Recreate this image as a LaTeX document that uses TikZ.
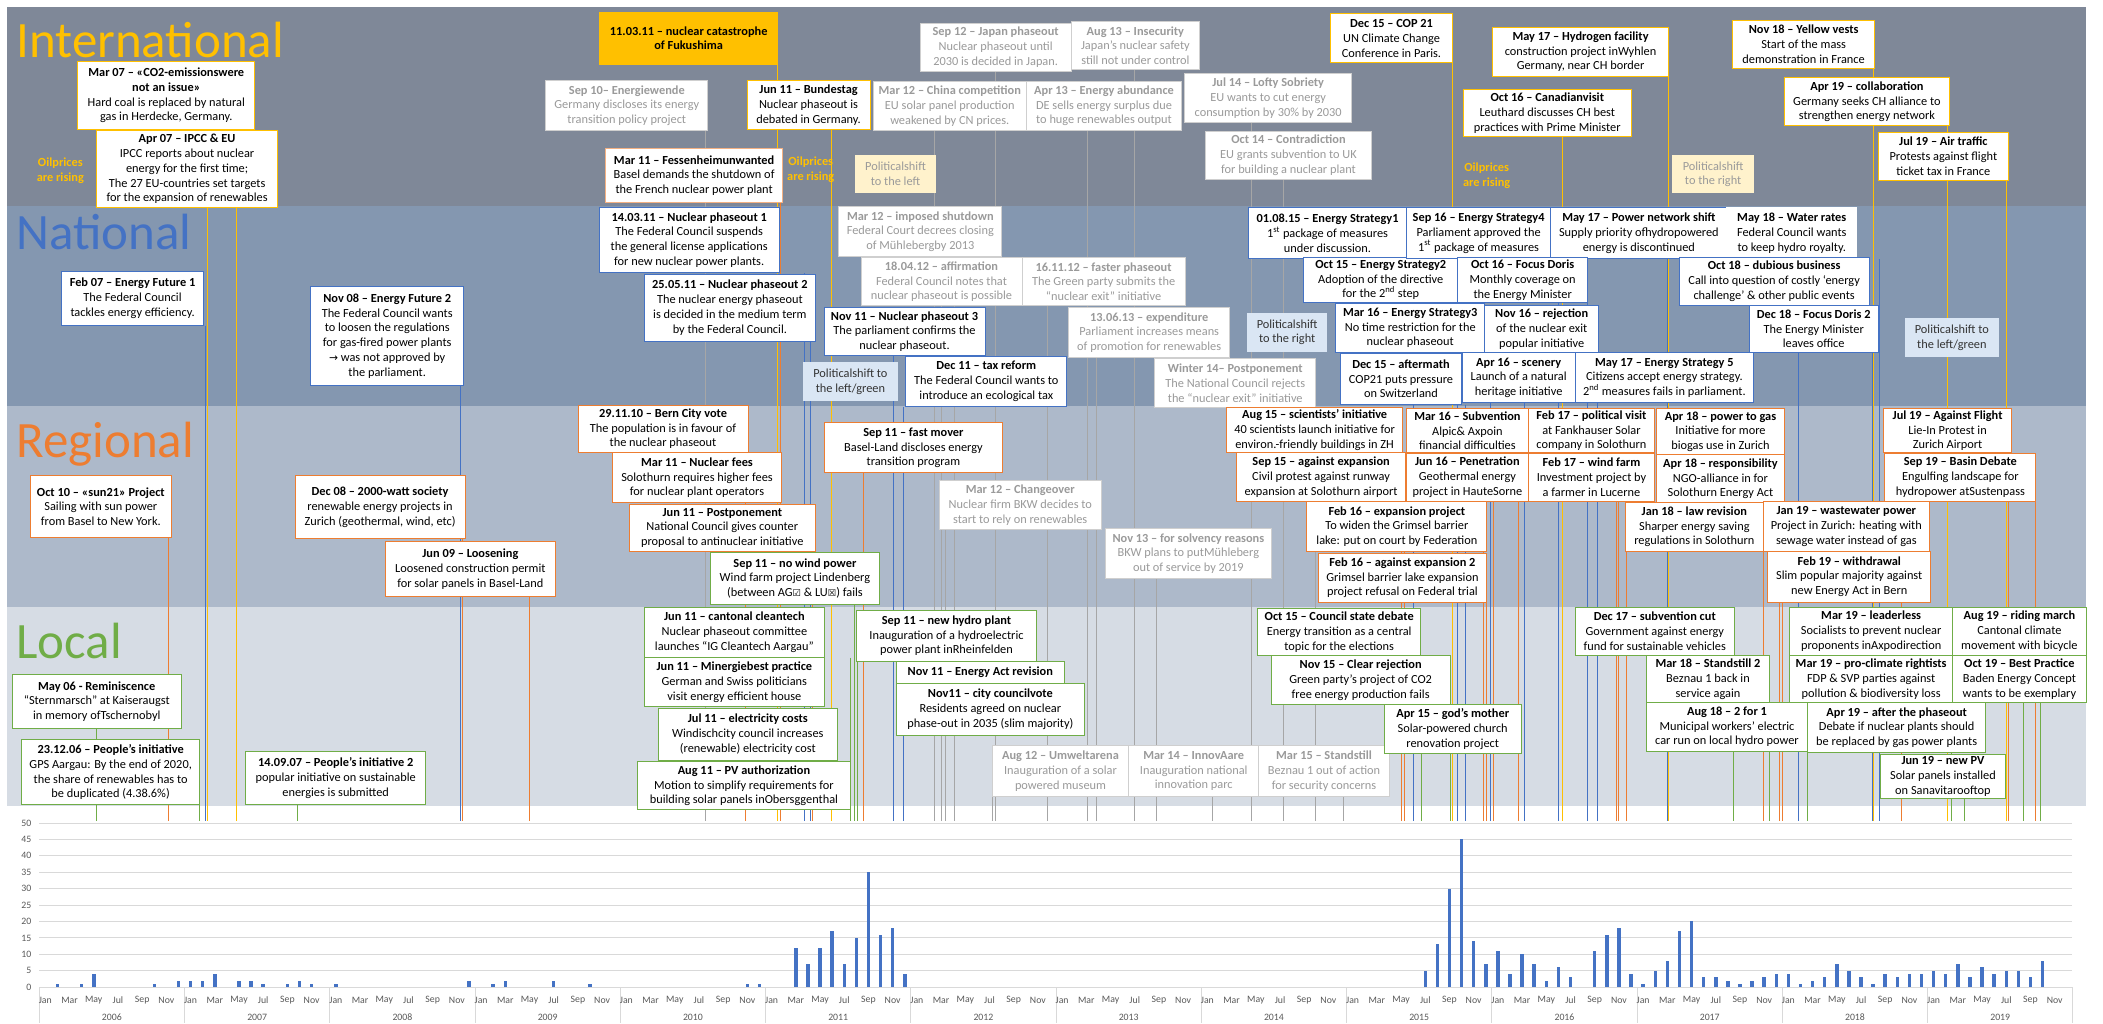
\documentclass[tikz,border=0pt]{standalone}
\usepackage{fontspec}
\setmainfont{Carlito}
\newfontfamily\symfont{DejaVu Sans}
\definecolor{cGold}{HTML}{FFC000}
\definecolor{cBlue}{HTML}{4472C4}
\definecolor{cOrange}{HTML}{ED7D31}
\definecolor{cGreen}{HTML}{70AD47}
\definecolor{cFadeLine}{HTML}{CFCFCF}
\definecolor{cFadeText}{HTML}{9A9A9A}
\definecolor{cLineGray}{HTML}{A6A6A6}
\definecolor{bandI}{HTML}{7F8898}
\definecolor{bandN}{HTML}{8497B0}
\definecolor{bandR}{HTML}{ADB9CA}
\definecolor{bandL}{HTML}{D6DCE4}
\definecolor{psYellow}{HTML}{FFF2CC}
\definecolor{psBlue}{HTML}{DAE6F4}
\definecolor{gridc}{HTML}{D9D9D9}
\definecolor{axtext}{HTML}{595959}
\newcommand\evfont{\fontsize{9.2}{11}\selectfont}
\newcommand\chfont{\fontsize{7.3}{8}\selectfont}
\pgfdeclarelayer{bandlayer}
\pgfdeclarelayer{linelayer}
\pgfsetlayers{bandlayer,linelayer,main}
\newcommand\evline[3]{%
  \coordinate (ax-#1) at (#2,612);
  \begin{pgfonlayer}{linelayer}\draw[#3] (#1.south -| ax-#1) -- (ax-#1);\end{pgfonlayer}}
\tikzset{
  evt/.style={draw, fill=white, line width=0.7pt, inner sep=1pt, align=center, font=\evfont, text=black},
  intl/.style={evt, draw=cGold},
  natl/.style={evt, draw=cBlue},
  regl/.style={evt, draw=cOrange},
  locl/.style={evt, draw=cGreen},
  faded/.style={evt, draw=cFadeLine, text=cFadeText},
  psy/.style={fill=psYellow, align=center, font=\evfont, text=cFadeText, inner sep=1pt},
  psb/.style={fill=psBlue, align=center, font=\evfont, text=black!80, inner sep=1pt},
  oil/.style={align=center, font=\evfont\bfseries, text=cGold, inner sep=0pt},
  bandtitle/.style={font=\fontsize{38}{38}\selectfont, anchor=base west, inner sep=0pt},
  box/.style n args={4}{minimum width={(#3)-(#1)}, minimum height={(#4)-(#2)}, at={({((#1)+(#3))/2},{((#2)+(#4))/2})}},
  lG/.style={cGold, line width=0.7pt},
  lB/.style={cBlue, line width=0.7pt},
  lO/.style={cOrange, line width=0.7pt},
  lGr/.style={cGreen, line width=0.7pt},
  lF/.style={cLineGray, line width=0.6pt},
  ytick/.style={anchor=east, font=\chfont, text=axtext, inner sep=0pt},
  mtick/.style={font=\chfont, text=axtext, inner sep=0pt},
}
\begin{document}
\begin{tikzpicture}[x=1pt,y=-1pt]
\useasboundingbox (0,0) rectangle (1568,763);
\begin{pgfonlayer}{bandlayer}
\fill[white] (0,0) rectangle (1568,763);
\fill[bandI] (5,5) rectangle (1555,153.5);
\fill[bandN] (5,153.5) rectangle (1555,303);
\fill[bandR] (5,303) rectangle (1555,452.6);
\fill[bandL] (5,452.6) rectangle (1555,601);
\end{pgfonlayer}

% band titles
\node[bandtitle, text=cGold] (tI) at (12,42.5) {International};
\node[bandtitle, text=cBlue] (tN) at (12,186) {National};
\node[bandtitle, text=cOrange] (tR) at (12,341) {Regional};
\node[bandtitle, text=cGreen] (tL) at (12,491) {Local};

% ---------- International ----------
\node[intl, box={58}{46}{190}{96.5}] (i1) {\textbf{Mar 07 – «CO2-emissionswere}\\\textbf{not an issue»}\\Hard coal is replaced by natural\\gas in Herdecke, Germany.};
\node[intl, box={72}{97}{207}{155}] (i2) {\textbf{Apr 07 – IPCC \& EU}\\IPCC reports about nuclear\\energy for the first time;\\The 27 EU-countries set targets\\for the expansion of renewables};
\node[oil] (oil1) at (45,127.5) {Oilprices\\are rising};
\node[evt, draw=cGold, fill=cGold, box={447}{9}{580}{48}] (i3) {\textbf{11.03.11 – nuclear catastrophe}\\\textbf{of Fukushima}};
\node[faded, box={407}{60}{527.7}{97.5}] (i4) {\textbf{Sep 10– Energiewende}\\Germany discloses its energy\\transition policy project};
\node[regl, draw=cOrange!60, box={451.7}{110.6}{583.4}{151}] (i5) {\textbf{Mar 11 – Fessenheimunwanted}\\Basel demands the shutdown of\\the French nuclear power plant};
\node[intl, box={557}{60}{648.7}{96.5}] (i6) {\textbf{Jun 11 – Bundestag}\\Nuclear phaseout is\\debated in Germany.};
\node[oil] (oil2) at (604.5,126.5) {Oilprices\\are rising};
\node[psy, box={637.7}{115.6}{697.7}{144}] (ps1) {Politicalshift\\to the left};
\node[faded, box={686}{17.4}{798.7}{53}] (i7) {\textbf{Sep 12 – Japan phaseout}\\Nuclear phaseout until\\2030 is decided in Japan.};
\node[faded, box={798.7}{16}{894.4}{52}] (i8) {\textbf{Aug 13 – Insecurity}\\Japan’s nuclear safety\\still not under control};
\node[faded, box={651}{61}{765.3}{97}] (i9) {\textbf{Mar 12 – China competition}\\EU solar panel production\\weakened by CN prices.};
\node[faded, box={765.3}{61}{881}{97}] (i10) {\textbf{Apr 13 – Energy abundance}\\DE sells energy surplus due\\to huge renewables output};
\node[faded, box={883.4}{55}{1007.7}{91.5}] (i11) {\textbf{Jul 14 – Lofty Sobriety}\\EU wants to cut energy\\consumption by 30\% by 2030};
\node[faded, box={898.7}{97.8}{1022.7}{133.8}] (i12) {\textbf{Oct 14 – Contradiction}\\EU grants subvention to UK\\for building a nuclear plant};
\node[intl, box={992}{10.4}{1083}{46.8}] (i13) {\textbf{Dec 15 – COP 21}\\UN Climate Change\\Conference in Paris.};
\node[intl, box={1112.6}{20.4}{1244.3}{56.7}] (i14) {\textbf{May 17 – Hydrogen facility}\\construction project inWyhlen\\Germany, near CH border};
\node[intl, box={1091}{66.6}{1216.3}{102}] (i15) {\textbf{Oct 16 – Canadianvisit}\\Leuthard discusses CH best\\practices with Prime Minister};
\node[oil] (oil3) at (1108.5,131) {Oilprices\\are rising};
\node[psy, box={1247}{115.7}{1307.6}{144}] (ps2) {Politicalshift\\to the right};
\node[intl, box={1292}{15}{1397.6}{51}] (i16) {\textbf{Nov 18 – Yellow vests}\\Start of the mass\\demonstration in France};
\node[intl, box={1330.3}{58}{1453.6}{93.8}] (i17) {\textbf{Apr 19 – collaboration}\\Germany seeks CH alliance to\\strengthen energy network};
\node[intl, box={1400.3}{99}{1497.6}{134.3}] (i18) {\textbf{Jul 19 – Air traffic}\\Protests against flight\\ticket tax in France};

% ---------- National ----------
\node[natl, box={46}{202.6}{151.7}{242.4}] (n1) {\textbf{Feb 07 – Energy Future 1}\\The Federal Council\\tackles energy efficiency.};
\node[natl, box={231.7}{213.8}{345.7}{287.4}] (n2) {\textbf{Nov 08 – Energy Future 2}\\The Federal Council wants\\to loosen the regulations\\for gas-fired power plants\\ {\symfont\fontsize{8}{11}\selectfont →} was not approved by\\the parliament.};
\node[natl, box={446.7}{154.6}{581}{203.3}] (n3) {\textbf{14.03.11 – Nuclear phaseout 1}\\The Federal Council suspends\\the general license applications\\for new nuclear power plants.};
\node[natl, box={480.7}{204.6}{607.7}{254.3}] (n4) {\textbf{25.05.11 – Nuclear phaseout 2}\\The nuclear energy phaseout\\is decided in the medium term\\by the Federal Council.};
\node[natl, box={614.4}{229.5}{734.4}{264.8}] (n5) {\textbf{Nov 11 – Nuclear phaseout 3}\\The parliament confirms the\\nuclear phaseout.};
\node[psb, box={598.7}{270}{669.4}{299}] (ps3) {Politicalshift to\\the left/green};
\node[natl, box={675.4}{266}{795.4}{302.8}] (n6) {\textbf{Dec 11 – tax reform}\\The Federal Council wants to\\introduce an ecological tax};
\node[faded, box={625.4}{154}{747}{191.5}] (n7) {\textbf{Mar 12 – imposed shutdown}\\Federal Court decrees closing\\of Mühlebergby 2013};
\node[faded, box={642}{192}{762}{228}] (n8) {\textbf{18.04.12 – affirmation}\\Federal Council notes that\\nuclear phaseout is possible};
\node[faded, box={762}{192}{883.7}{228}] (n9) {\textbf{16.11.12 – faster phaseout}\\The Green party submits the\\“nuclear exit" initiative};
\node[faded, box={796.7}{229.5}{917}{266.3}] (n10) {\textbf{13.06.13 – expenditure}\\Parliament increases means\\of promotion for renewables};
\node[faded, box={861}{267.3}{981}{304}] (n11) {\textbf{Winter 14– Postponement}\\The National Council rejects\\the “nuclear exit" initiative};
\node[psb, box={930}{233}{989.4}{262.3}] (ps4) {Politicalshift\\to the right};
\node[natl, box={931}{154.6}{1048.6}{193}] (n12) {\textbf{01.08.15 – Energy Strategy1}\\1\textsuperscript{st} package of measures\\under discussion.};
\node[natl, box={972}{192}{1087}{225.7}] (n13) {\textbf{Oct 15 – Energy Strategy2}\\Adoption of the directive\\for the 2\textsuperscript{nd} step};
\node[natl, box={996}{226}{1107}{263}] (n14) {\textbf{Mar 16 – Energy Strategy3}\\No time restriction for the\\nuclear phaseout};
\node[natl, box={999.4}{263.5}{1089.7}{301.5}] (n15) {\textbf{Dec 15 – aftermath}\\COP21 puts pressure\\on Switzerland};
\node[natl, box={1048.6}{154.6}{1156.3}{193}] (n16) {\textbf{Sep 16 – Energy Strategy4}\\Parliament approved the\\1\textsuperscript{st} package of measures};
\node[natl, box={1156.3}{154.6}{1287.6}{193}] (n17) {\textbf{May 17 – Power network shift}\\Supply priority ofhydropowered\\energy is discontinued};
\node[natl, draw=white, box={1287.6}{154.6}{1384.3}{193}] (n18) {\textbf{May 18 – Water rates}\\Federal Council wants\\to keep hydro royalty.};
\node[natl, box={1087}{192}{1183.6}{225.7}] (n19) {\textbf{Oct 16 – Focus Doris}\\Monthly coverage on\\the Energy Minister};
\node[natl, box={1107}{227.5}{1192}{263}] (n20) {\textbf{Nov 16 – rejection}\\of the nuclear exit\\popular initiative};
\node[natl, box={1090.3}{263}{1174.3}{300.4}] (n21) {\textbf{Apr 16 – scenery}\\Launch of a natural\\heritage initiative};
\node[natl, box={1174.3}{263}{1307.6}{300.4}] (n22) {\textbf{May 17 – Energy Strategy 5}\\Citizens accept energy strategy.\\2\textsuperscript{nd} measures fails in parliament.};
\node[natl, box={1252}{191.6}{1393.6}{227.7}] (n23) {\textbf{Oct 18 – dubious business}\\Call into question of costly ‘energy\\challenge’ \& other public events};
\node[natl, box={1304.3}{228}{1400.3}{262.5}] (n24) {\textbf{Dec 18 – Focus Doris 2}\\The Energy Minister\\leaves office};
\node[psb, box={1420.3}{237.4}{1490.3}{266}] (ps5) {Politicalshift to\\the left/green};

% ---------- Regional ----------
\node[regl, box={22.7}{354.6}{127.7}{401}] (r1) {\textbf{Oct 10 – «sun21» Project}\\Sailing with sun power\\from Basel to New York.};
\node[regl, box={220}{354.6}{346.7}{401.6}] (r2) {\textbf{Dec 08 – 2000-watt society}\\renewable energy projects in\\Zurich (geothermal, wind, etc)};
\node[regl, box={287.4}{404}{414}{444.4}] (r3) {\textbf{Jun 09 – Loosening}\\Loosened construction permit\\for solar panels in Basel-Land};
\node[regl, box={431}{302}{557.7}{337.5}] (r4) {\textbf{29.11.10 – Bern City vote}\\The population is in favour of\\the nuclear phaseout};
\node[regl, box={456.7}{337.5}{582.7}{374.8}] (r5) {\textbf{Mar 11 – Nuclear fees}\\Solothurn requires higher fees\\for nuclear plant operators};
\node[regl, box={469.4}{376}{607.7}{411}] (r6) {\textbf{Jun 11 – Postponement}\\National Council gives counter\\proposal to antinuclear initiative};
\node[regl, box={614.4}{315.3}{747.7}{352.6}] (r7) {\textbf{Sep 11 – fast mover}\\Basel-Land discloses energy\\transition program};
\node[faded, box={700.4}{358}{821}{395}] (r8) {\textbf{Mar 12 – Changeover}\\Nuclear firm BKW decides to\\start to rely on renewables};
\node[faded, box={824.4}{394}{947.7}{431.4}] (r9) {\textbf{Nov 13 – for solvency reasons}\\BKW plans to putMühleberg\\out of service by 2019};
\node[regl, box={914.4}{304}{1046}{337.6}] (r10) {\textbf{Aug 15 – scientists’ initiative}\\40 scientists launch initiative for\\environ.-friendly buildings in ZH};
\node[regl, box={922}{337.6}{1048}{373.7}] (r11) {\textbf{Sep 15 – against expansion}\\Civil protest against runway\\expansion at Solothurn airport};
\node[regl, box={974.4}{374}{1108.6}{411}] (r12) {\textbf{Feb 16 – expansion project}\\To widen the Grimsel barrier\\lake: put on court by Federation};
\node[regl, box={982.7}{412.8}{1108.6}{448.9}] (r13) {\textbf{Feb 16 – against expansion 2}\\Grimsel barrier lake expansion\\project refusal on Federal trial};
\node[regl, box={1048.6}{304.8}{1139.6}{337.6}] (r14) {\textbf{Mar 16 – Subvention}\\Alpic\& Axpoin\\financial difficulties};
\node[regl, box={1048.6}{338}{1139.6}{373.7}] (r15) {\textbf{Jun 16 – Penetration}\\Geothermal energy\\project in HauteSorne};
\node[regl, box={1139.6}{304.8}{1233.6}{337.6}] (r16) {\textbf{Feb 17 – political visit}\\at Fankhauser Solar\\company in Solothurn};
\node[regl, box={1139.6}{338}{1233.6}{373.7}] (r17) {\textbf{Feb 17 – wind farm}\\Investment project by\\a farmer in Lucerne};
\node[regl, box={1235.3}{304.8}{1330.3}{339}] (r18) {\textbf{Apr 18 – power to gas}\\Initiative for more\\biogas use in Zurich};
\node[regl, box={1235.3}{339}{1330.3}{375}] (r19) {\textbf{Apr 18 – responsibility}\\NGO-alliance in for\\Solothurn Energy Act};
\node[regl, box={1212}{374.5}{1314.6}{411}] (r20) {\textbf{Jan 18 – law revision}\\Sharper energy saving\\regulations in Solothurn};
\node[regl, box={1314.6}{374}{1438.6}{411}] (r21) {\textbf{Jan 19 – wastewater power}\\Project in Zurich: heating with\\sewage water instead of gas};
\node[regl, box={1318}{411}{1439.6}{449}] (r22) {\textbf{Feb 19 – withdrawal}\\Slim popular majority against\\new Energy Act in Bern};
\node[regl, box={1404.6}{304.8}{1499.6}{337.6}] (r23) {\textbf{Jul 19 – Against Flight}\\Lie-In Protest in\\Zurich Airport};
\node[regl, box={1405.3}{338}{1518}{373.7}] (r24) {\textbf{Sep 19 – Basin Debate}\\Engulfing landscape for\\hydropower atSustenpass};
\node[locl, box={529.4}{411.6}{656}{450.8}] (l0) {\textbf{Sep 11 – no wind power}\\Wind farm project Lindenberg\\(between AG{\symfont\fontsize{7}{11}\selectfont ☑} \& LU{\symfont\fontsize{7}{11}\selectfont ☒}) fails};

% ---------- Local ----------
\node[locl, box={9.3}{503}{135}{543}] (l1) {\textbf{May 06 - Reminiscence}\\“Sternmarsch” at Kaiseraugst\\in memory ofTschernobyl};
\node[locl, box={16}{551.6}{149}{600}] (l2) {\textbf{23.12.06 – People’s initiative}\\GPS Aargau: By the end of 2020,\\the share of renewables has to\\be duplicated (4.38.6\%)};
\node[locl, box={183.3}{560}{317.3}{600}] (l3) {\textbf{14.09.07 – People’s initiative 2}\\popular initiative on sustainable\\energies is submitted};
\node[locl, box={480.7}{452.6}{614.4}{490}] (l4) {\textbf{Jun 11 – cantonal cleantech}\\Nuclear phaseout committee\\launches “IG Cleantech Aargau”};
\node[locl, box={480.7}{490}{614.4}{527}] (l5) {\textbf{Jun 11 – Minergiebest practice}\\German and Swiss politicians\\visit energy efficient house};
\node[locl, box={490.7}{528}{624.4}{567}] (l6) {\textbf{Jul 11 – electricity costs}\\Windischcity council increases\\(renewable) electricity cost};
\node[locl, box={475}{568}{634.4}{603.7}] (l7) {\textbf{Aug 11 – PV authorization}\\Motion to simplify requirements for\\building solar panels inObersggenthal};
\node[locl, box={638.7}{455}{772.7}{493}] (l8) {\textbf{Sep 11 – new hydro plant}\\Inauguration of a hydroelectric\\power plant inRheinfelden};
\node[locl, box={668.4}{493}{793.4}{509.8}] (l9) {\textbf{Nov 11 – Energy Act revision}};
\node[locl, box={668.4}{509.8}{808.4}{548}] (l10) {\textbf{Nov11 – city councilvote}\\Residents agreed on nuclear\\phase-out in 2035 (slim majority)};
\node[faded, box={739.7}{556}{841.7}{593.8}] (l11) {\textbf{Aug 12 – Umweltarena}\\Inauguration of a solar\\powered museum};
\node[faded, box={841.7}{556}{938.4}{593.8}] (l12) {\textbf{Mar 14 – InnovAare}\\Inauguration national\\innovation parc};
\node[faded, box={938.4}{556}{1036}{593.8}] (l13) {\textbf{Mar 15 – Standstill}\\Beznau 1 out of action\\for security concerns};
\node[locl, box={937.7}{454}{1059.3}{488.7}] (l14) {\textbf{Oct 15 – Council state debate}\\Energy transition as a central\\topic for the elections};
\node[locl, box={947.7}{489}{1081.3}{525.4}] (l15) {\textbf{Nov 15 – Clear rejection}\\Green party’s project of CO2\\free energy production fails};
\node[locl, box={1032}{525.4}{1134.3}{561.6}] (l16) {\textbf{Apr 15 – god’s mother}\\Solar-powered church\\renovation project};
\node[locl, box={1174.6}{452.6}{1293}{488.7}] (l17) {\textbf{Dec 17 – subvention cut}\\Government against energy\\fund for sustainable vehicles};
\node[locl, box={1227.3}{489}{1319.6}{524}] (l18) {\textbf{Mar 18 – Standstill 2}\\Beznau 1 back in\\service again};
\node[locl, box={1227.3}{524}{1348}{560}] (l19) {\textbf{Aug 18 – 2 for 1}\\Municipal workers’ electric\\car run on local hydro power};
\node[locl, box={1334.3}{452.6}{1456}{488.7}] (l20) {\textbf{Mar 19 – leaderless}\\Socialists to prevent nuclear\\proponents inAxpodirection};
\node[locl, box={1334.3}{488.7}{1456}{524}] (l21) {\textbf{Mar 19 – pro-climate rightists}\\FDP \& SVP parties against\\pollution \& biodiversity loss};
\node[locl, box={1456}{452.6}{1555.3}{488.7}] (l22) {\textbf{Aug 19 – riding march}\\Cantonal climate\\movement with bicycle};
\node[locl, box={1456}{488.7}{1555.3}{524}] (l23) {\textbf{Oct 19 –  Best Practice}\\Baden Energy Concept\\wants to be exemplary};
\node[locl, box={1348}{524}{1480.3}{561}] (l24) {\textbf{Apr 19 – after the phaseout}\\Debate if nuclear plants should\\be replaced by gas power plants};
\node[locl, box={1402}{562.6}{1495.3}{595.5}] (l25) {\textbf{Jun 19 – new PV}\\Solar panels installed\\on Sanavitarooftop};

% ---------- connectors ----------
\evline{i1}{155}{lG}
\evline{i2}{176}{lG}
\evline{i3}{580}{lG}
\evline{i4}{526}{lF}
\evline{i5}{582}{lO}
\evline{i6}{620}{lG}
\evline{i7}{742}{lF}
\evline{i8}{846}{lF}
\evline{i9}{697}{lF}
\evline{i10}{811}{lF}
\evline{i11}{933}{lF}
\evline{i12}{957}{lF}
\evline{i13}{1083}{lG}
\evline{i14}{1244}{lG}
\evline{i15}{1165}{lG}
\evline{i16}{1397}{lG}
\evline{i17}{1452}{lG}
\evline{i18}{1496}{lG}
\evline{n1}{153}{lB}
\evline{n2}{343}{lB}
\evline{n3}{600}{lB}
\evline{n4}{604}{lB}
\evline{n5}{666}{lB}
\evline{n6}{673.4}{lB}
\evline{n7}{702}{lF}
\evline{n8}{711.7}{lF}
\evline{n9}{781}{lF}
\evline{n10}{817.7}{lF}
\evline{n11}{981}{lF}
\evline{n12}{1053.6}{lB}
\evline{n13}{1087}{lB}
\evline{n14}{1111}{lB}
\evline{n15}{1093}{lB}
\evline{n16}{1162}{lB}
\evline{n17}{1243}{lB}
\evline{n18}{1401}{lB}
\evline{n19}{1183.6}{lB}
\evline{n20}{1191.3}{lB}
\evline{n21}{1137}{lB}
\evline{n22}{1243}{lB}
\evline{n23}{1396}{lB}
\evline{n24}{1341}{lB}
\evline{r1}{125.7}{lO}
\evline{r2}{344.8}{lO}
\evline{r3}{394.7}{lO}
\evline{r4}{556}{lO}
\evline{r5}{581.7}{lO}
\evline{r6}{606}{lO}
\evline{r7}{643.7}{lO}
\evline{r8}{705}{lF}
\evline{r9}{862}{lF}
\evline{r10}{1045}{lO}
\evline{r11}{1047}{lO}
\evline{r12}{1106}{lO}
\evline{r13}{1108.6}{lO}
\evline{r14}{1113.6}{lO}
\evline{r15}{1132}{lO}
\evline{r16}{1205}{lO}
\evline{r17}{1207}{lO}
\evline{r18}{1329}{lO}
\evline{r19}{1327}{lO}
\evline{r20}{1213}{lO}
\evline{r21}{1315}{lO}
\evline{r22}{1418}{lO}
\evline{r23}{1497.6}{lO}
\evline{r24}{1518}{lO}
\evline{l0}{637}{lGr}
\evline{l1}{72}{lGr}
\evline{l2}{148.7}{lGr}
\evline{l3}{221.7}{lGr}
\evline{l4}{634}{lGr}
\evline{l5}{634}{lGr}
\evline{l6}{634}{lGr}
\evline{l7}{634.4}{lGr}
\evline{l8}{639.4}{lGr}
\evline{l11}{740}{lF}
\evline{l12}{904}{lF}
\evline{l13}{1002}{lF}
\evline{l14}{1059.6}{lGr}
\evline{l15}{1081.3}{lGr}
\evline{l17}{1292.6}{lGr}
\evline{l18}{1292.6}{lGr}
\evline{l19}{1319.3}{lGr}
\evline{l20}{1348}{lGr}
\evline{l21}{1348}{lGr}
\evline{l22}{1508.6}{lGr}
\evline{l23}{1521.3}{lGr}
\evline{l24}{1455.3}{lGr}
\evline{l25}{1464.6}{lGr}

% ---------- chart ----------
\foreach \v in {0,5,...,50} {
  \draw[gridc, line width=0.7pt] (29.3,{736-\v*2.448}) -- (1545,{736-\v*2.448});
  \node[ytick] (yt\v) at (23.5,{736-\v*2.448}) {\v};
}
\foreach \k in {0,...,14}
  \draw[gridc, line width=0.6pt] ({29.3+\k*108.3},736) -- ({29.3+\k*108.3},763);
\foreach \m/\v in {1/1,3/1,4/4,9/1,11/2,12/2,13/2,14/4,16/2,17/2,18/1,20/1,21/2,22/1,24/1,35/2,37/1,38/2,42/2,45/1,58/1,59/1,62/12,63/7,64/12,65/17,66/7,67/15,68/35,69/16,70/18,71/4,114/5,115/13,116/30,117/45,118/14,119/7,120/11,121/4,122/10,123/7,124/2,125/6,126/3,128/11,129/16,130/18,131/4,132/1,133/5,134/8,135/17,136/20,137/3,138/3,139/2,140/1,141/2,142/3,143/4,144/4,145/1,146/2,147/3,148/7,149/5,150/3,151/1,152/4,153/3,154/4,155/4,156/5,157/4,158/7,159/3,160/6,161/4,162/5,163/5,164/3,165/8}
  \fill[cBlue] ({29.3+(\m+0.5)*9.025-1.3},736) rectangle ({29.3+(\m+0.5)*9.025+1.3},{736-\v*2.448});
\foreach \k in {0,...,13} {
  \foreach \j/\mn in {0/Jan,2/Mar,4/May,6/Jul,8/Sep,10/Nov}
    \node[mtick] (mt\k-\j) at ({29.3+(12*\k+\j+0.5)*9.025},746) {\mn};
  \pgfmathtruncatemacro\yrval{2006+\k}
  \node[mtick] (yr\k) at ({29.3+(\k+0.5)*108.3},758.5) {\yrval};
}
\end{tikzpicture}
\end{document}
